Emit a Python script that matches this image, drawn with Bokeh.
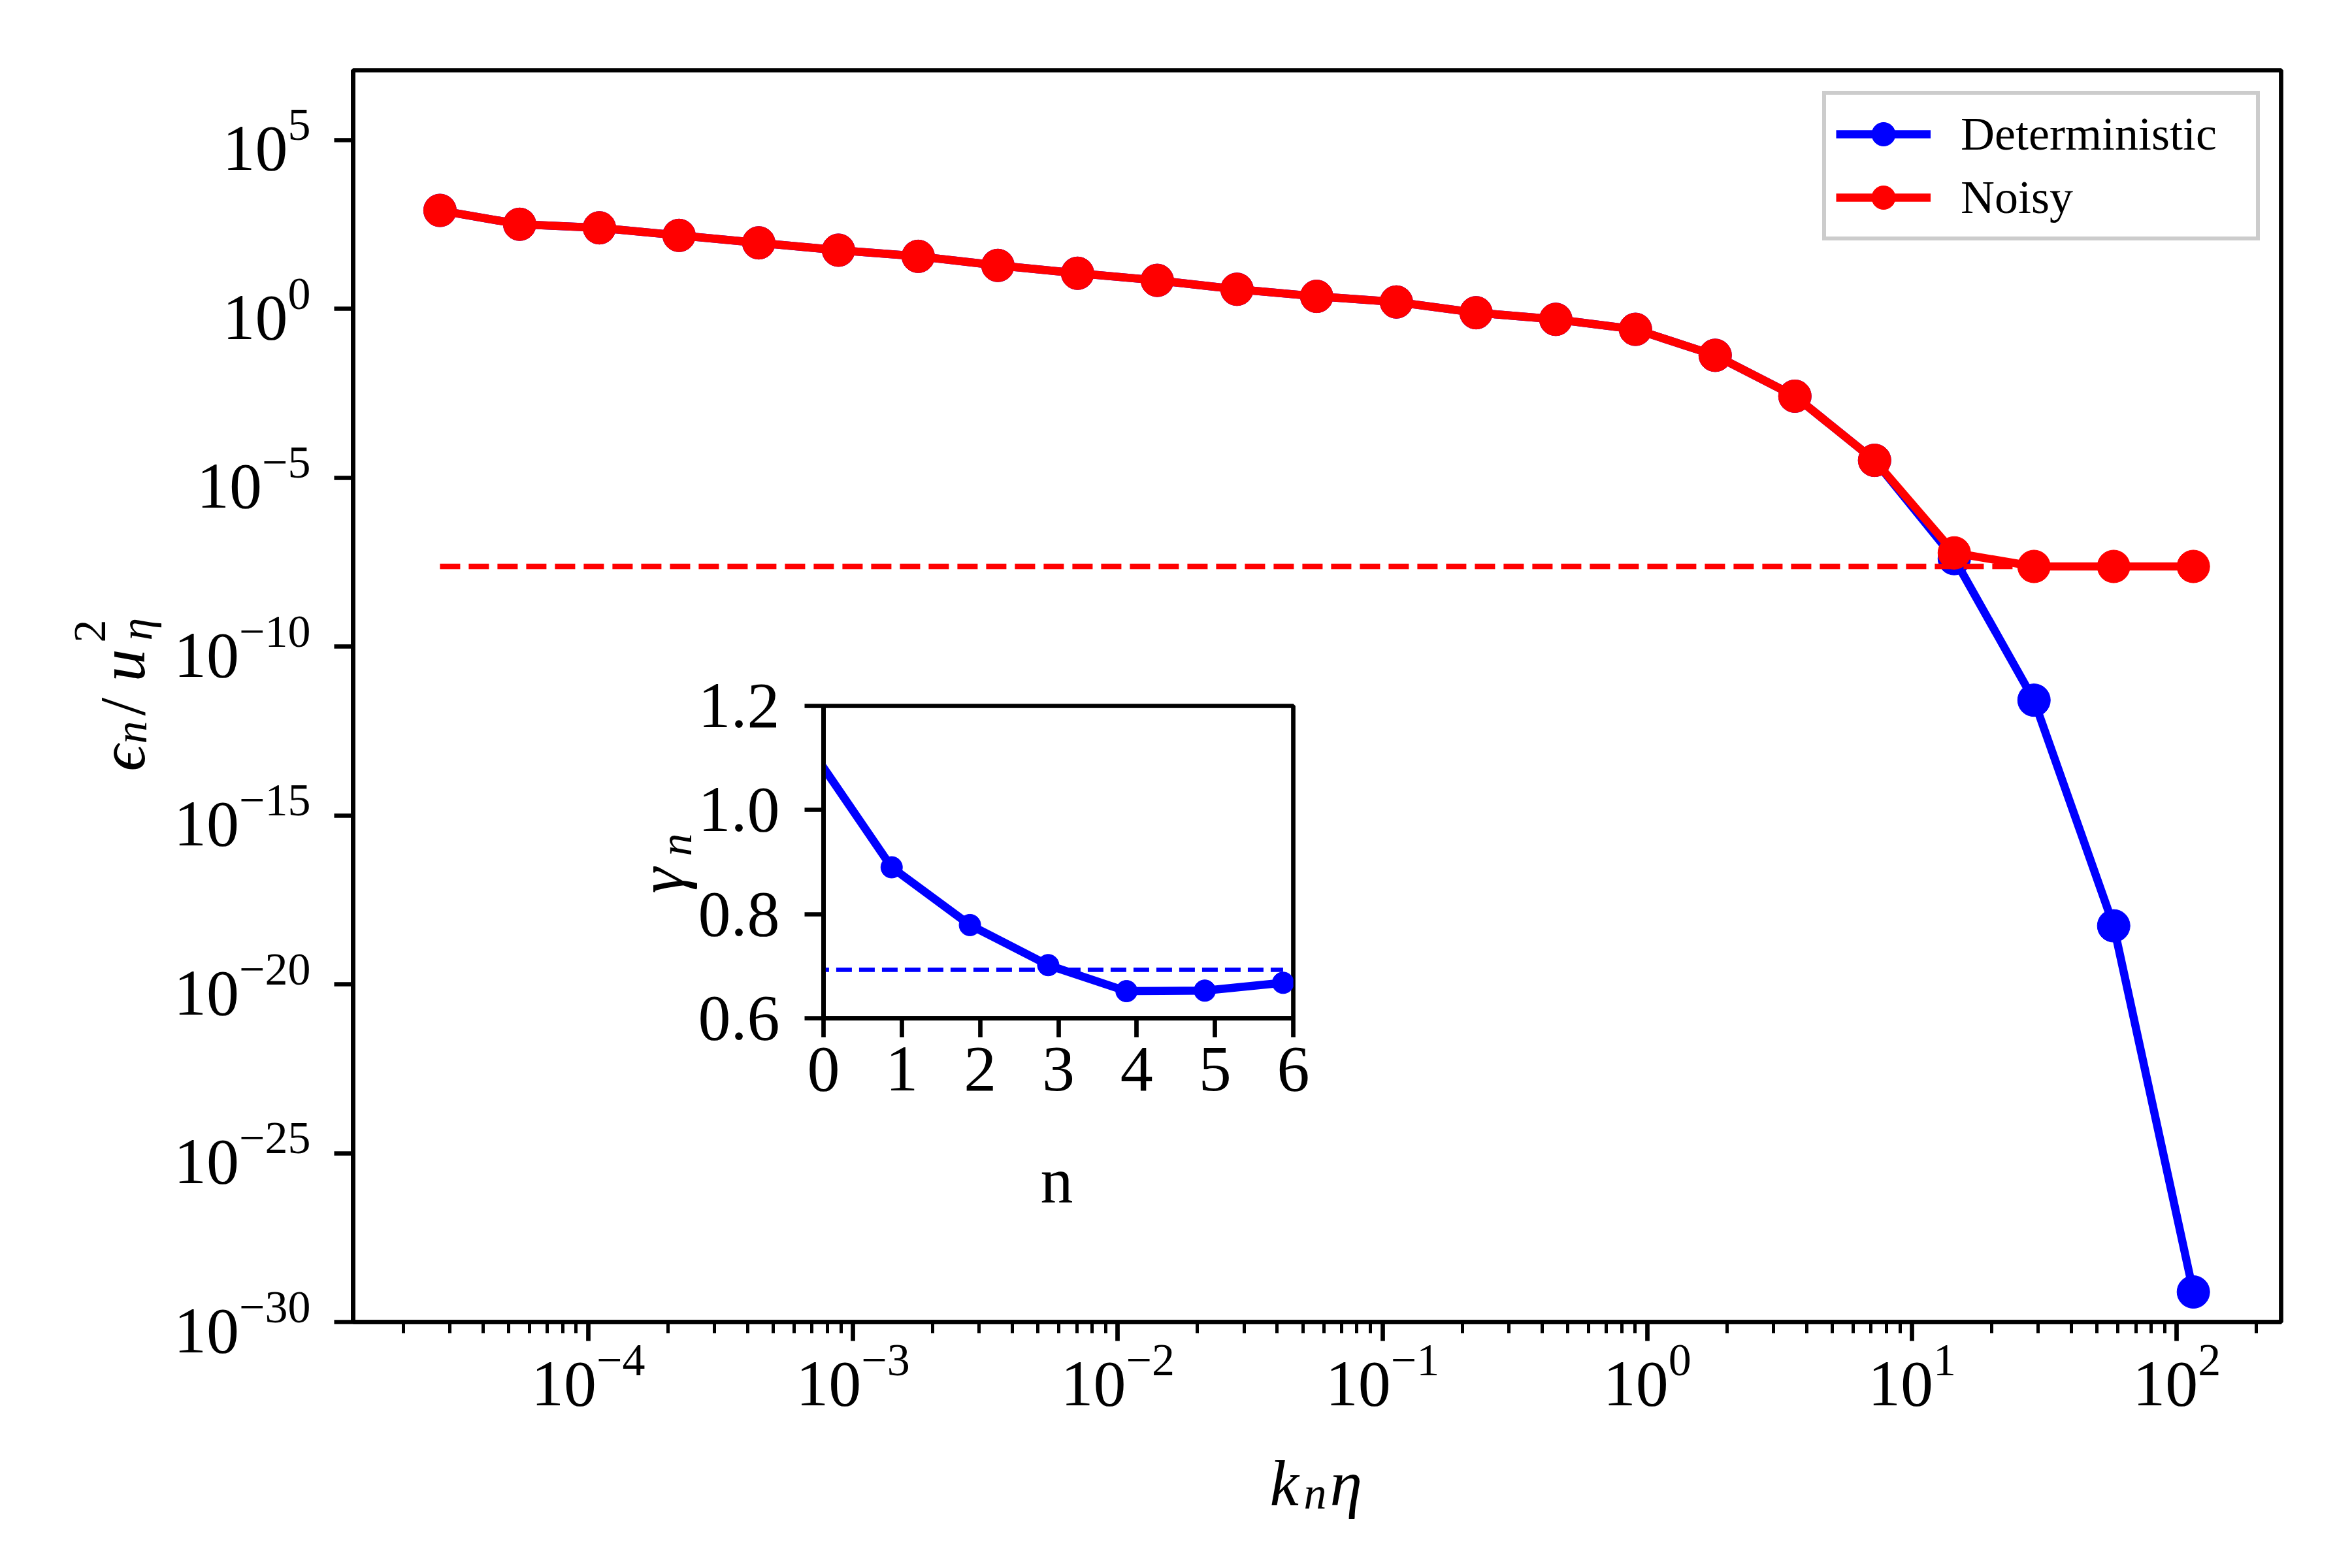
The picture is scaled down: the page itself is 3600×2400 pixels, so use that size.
import math
from bokeh.plotting import figure
from bokeh.models import (Range1d, FixedTicker, Legend, LegendItem, Label,
                          GridBox, PrintfTickFormatter)
from bokeh.embed import file_html
from bokeh.resources import INLINE

# ---------------- data ----------------
k_eta = [2.754e-5, 5.508e-5, 1.102e-4, 2.203e-4, 4.406e-4, 8.813e-4,
         1.763e-3, 3.525e-3, 7.050e-3, 1.410e-2, 2.820e-2, 5.640e-2,
         0.1128, 0.2256, 0.4512, 0.9024, 1.805, 3.610, 7.219, 14.44,
         28.88, 57.75, 115.5]
eps_deterministic = [813, 316, 248, 148, 89, 54, 35.5, 19.1, 11.2, 6.9,
                     3.76, 2.32, 1.58, 0.76, 0.484, 0.245, 0.0417, 2.57e-3,
                     3.24e-5, 3.98e-8, 2.57e-12, 5.37e-19, 7.76e-30]
eps_noisy = [813, 316, 248, 148, 89, 54, 35.5, 19.1, 11.2, 6.9,
             3.76, 2.32, 1.58, 0.76, 0.484, 0.245, 0.0417, 2.57e-3,
             3.24e-5, 5.9e-8, 2.34e-8, 2.34e-8, 2.34e-8]
noise_floor = 2.34e-8

n_shell = [-0.13, 0.87, 1.87, 2.87, 3.87, 4.87, 5.87]
gamma_n = [1.11, 0.890, 0.779, 0.702, 0.652, 0.653, 0.668]
gamma_ref = 0.693

series_labels = ["Deterministic", "Noisy"]
y_major_ticks = [1e-30, 1e-25, 1e-20, 1e-15, 1e-10, 1e-5, 1e0, 1e5]
x_major_ticks = [1e-4, 1e-3, 1e-2, 1e-1, 1e0, 1e1, 1e2]
x_minor_ticks = [m * 10.0 ** e for e in range(-5, 3) for m in range(2, 10)]
inset_x_ticks = [0, 1, 2, 3, 4, 5, 6]
inset_y_ticks = [0.6, 0.8, 1.0, 1.2]

BLUE = "#0000ff"
RED = "#ff0000"
FONT = "Liberation Serif"
LW = 12.5
SPINE = 6.7


def style_axes(fig):
    fig.grid.visible = False
    fig.outline_line_color = "black"
    fig.outline_line_width = SPINE
    fig.outline_line_alpha = 1.0
    for ax in fig.axis:
        ax.axis_line_color = "black"
        ax.axis_line_width = SPINE
        ax.major_tick_line_color = "black"
        ax.major_tick_line_width = SPINE
        ax.major_tick_out = 29
        ax.major_tick_in = 0
        ax.minor_tick_line_color = "black"
        ax.minor_tick_line_width = 5
        ax.minor_tick_out = 17
        ax.minor_tick_in = 0
        ax.major_label_text_font = FONT
        ax.major_label_text_font_size = "100px"
        ax.major_label_text_color = "black"


# ---------------- main figure ----------------
W, H = 3584, 2384
p = figure(width=W, height=H, x_axis_type="log", y_axis_type="log",
           x_range=Range1d(10 ** -4.888, 10 ** 2.394),
           y_range=Range1d(1e-30, 10 ** 7.06),
           output_backend="svg", toolbar_location=None,
           min_border_left=540, min_border_right=93,
           min_border_top=107, min_border_bottom=361)
p.background_fill_color = "white"
p.border_fill_color = "white"
style_axes(p)
p.xaxis.ticker = FixedTicker(ticks=x_major_ticks, minor_ticks=x_minor_ticks)
p.yaxis.ticker = FixedTicker(ticks=y_major_ticks, minor_ticks=[])
p.xaxis.major_label_standoff = 6
p.yaxis.major_label_standoff = 36

bl = p.line(k_eta, eps_deterministic, line_color=BLUE, line_width=LW, line_join="round")
bs = p.scatter(k_eta, eps_deterministic, size=50, fill_color=BLUE, line_color=BLUE, line_width=1)
rl = p.line(k_eta, eps_noisy, line_color=RED, line_width=LW, line_join="round")
rs = p.scatter(k_eta, eps_noisy, size=50, fill_color=RED, line_color=RED, line_width=1)
p.line([k_eta[0], k_eta[-1]], [noise_floor, noise_floor], line_color=RED,
       line_width=8.3, line_dash="31 13")

legend = Legend(items=[LegendItem(label=series_labels[0], renderers=[bl, bs]),
                       LegendItem(label=series_labels[1], renderers=[rl, rs])],
                location="top_right")
legend.label_text_font = FONT
legend.label_text_font_size = "72px"
legend.label_text_color = "black"
legend.glyph_width = 145
legend.glyph_height = 90
legend.label_height = 90
legend.label_width = 437
legend.label_standoff = 46
legend.spacing = 7
legend.padding = 15
legend.margin = 32
legend.border_line_color = "#cccccc"
legend.border_line_width = SPINE
legend.border_line_alpha = 1.0
legend.background_fill_color = "white"
legend.background_fill_alpha = 0.8
p.add_layout(legend)

# ---------------- inset figure ----------------
IW, IH = 1059, 828
q = figure(width=IW, height=IH, x_range=Range1d(0, 6), y_range=Range1d(0.6, 1.2),
           output_backend="svg", toolbar_location=None,
           min_border_left=300, min_border_right=40,
           min_border_top=60, min_border_bottom=290)
q.background_fill_color = "white"
q.border_fill_alpha = 0.0
style_axes(q)
q.xaxis.ticker = FixedTicker(ticks=inset_x_ticks, minor_ticks=[])
q.yaxis.ticker = FixedTicker(ticks=inset_y_ticks, minor_ticks=[])
q.yaxis.formatter = PrintfTickFormatter(format="%.1f")
q.xaxis.major_label_standoff = 16
q.yaxis.major_label_standoff = 38

q.line(n_shell, gamma_n, line_color=BLUE, line_width=LW, line_join="round")
q.scatter(n_shell, gamma_n, size=33, fill_color=BLUE, line_color=BLUE, line_width=1)
q.line([n_shell[0], n_shell[-1]], [gamma_ref, gamma_ref], line_color=BLUE,
       line_width=6.7, line_dash="24 11")

# ---------------- transparent overlay holding the axis titles ----------------
t = figure(width=W, height=H, output_backend="svg", toolbar_location=None,
           x_axis_location=None, y_axis_location=None,
           min_border_left=0, min_border_right=0, min_border_top=0, min_border_bottom=0)
t.grid.visible = False
t.outline_line_color = None
t.background_fill_alpha = 0.0
t.border_fill_alpha = 0.0


def lab(text, px, py, size, italic=True, angle=0.0, align="left"):
    # px, py: position on the page (from the top-left corner)
    t.add_layout(Label(x=px, y=H - py, x_units="screen", y_units="screen", text=text,
                       angle=angle, text_font=FONT, text_font_size=size,
                       text_font_style="italic" if italic else "normal",
                       text_align=align, text_baseline="alphabetic",
                       text_color="black"))


R = math.pi / 2
# main x label  k_n eta
lab("k", 1943, 2270, "100px")
lab("n", 1995, 2285, "70px")
lab("η", 2035, 2270, "100px")
# main y label  eps_n / u_eta^2
lab("ϵ", 187, 1180, "100px", angle=R)
lab("n", 200, 1138, "70px", angle=R)
lab("/", 187, 1095, "100px", italic=False, angle=R)
lab("u", 187, 1043, "100px", angle=R)
lab("η", 208, 980, "70px", angle=R)
lab("2", 137, 983, "70px", italic=False, angle=R)
# inset labels
lab("n", 1617, 1806, "100px", italic=False, align="center")
lab("γ", 1012, 1367, "100px", angle=R)
lab("n", 1034, 1310, "70px", angle=R)

# ---------------- overlay layout ----------------
# zero-size outer tracks keep the overlay's frame independent of the main frame
c0, r0 = 960, 1020
grid = GridBox(children=[(p, 1, 1, 3, 3), (q, 2, 2, 1, 1), (t, 0, 0, 5, 5)],
               cols=["0px", f"{c0}px", f"{IW}px", f"{W - c0 - IW}px", "0px"],
               rows=["0px", f"{r0}px", f"{IH}px", f"{H - r0 - IH}px", "0px"])

open("out.html", "w").write(file_html(grid, INLINE))
